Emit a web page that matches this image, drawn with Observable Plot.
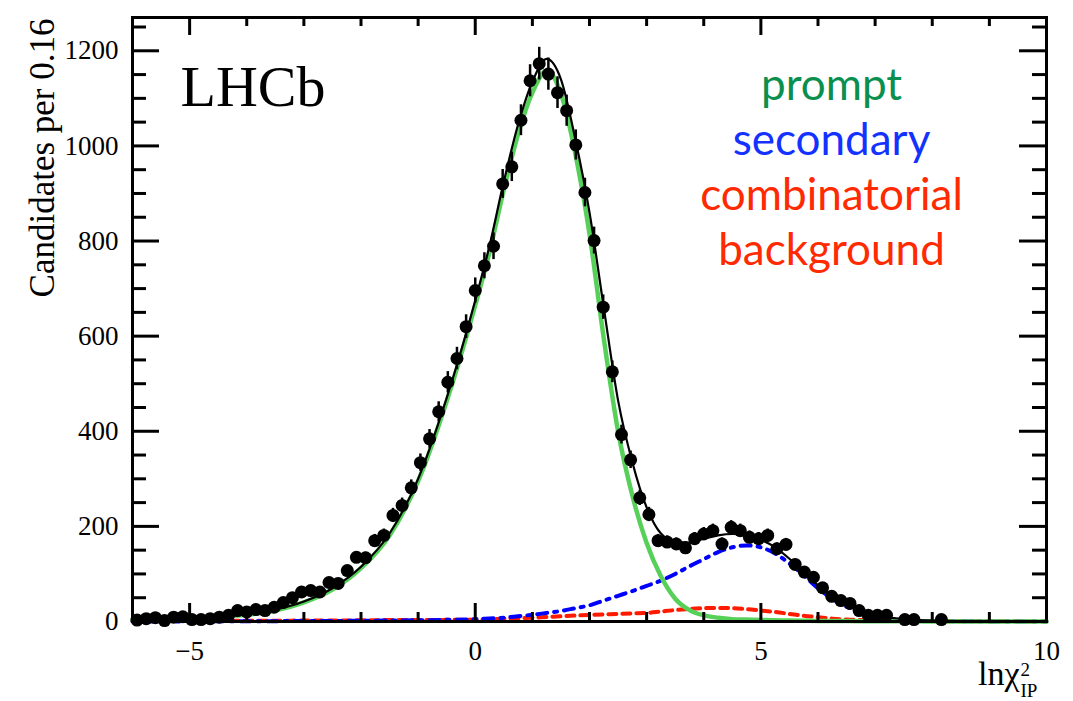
<!DOCTYPE html>
<html>
<head>
<meta charset="utf-8">
<script src="https://cdn.jsdelivr.net/npm/d3@7"></script>
<script src="https://cdn.jsdelivr.net/npm/@observablehq/plot@0.6"></script>
<style>
  html, body { margin: 0; padding: 0; background: #fff; }
  #chart svg { display: block; }
</style>
</head>
<body>
<div id="chart"></div>
<script>
// ---------------- data ----------------
const binCenters = [-5.92,-5.76,-5.60,-5.44,-5.28,-5.12,-4.96,-4.80,-4.64,-4.48,
  -4.32,-4.16,-4.00,-3.84,-3.68,-3.52,-3.36,-3.20,-3.04,-2.88,
  -2.72,-2.56,-2.40,-2.24,-2.08,-1.92,-1.76,-1.60,-1.44,-1.28,
  -1.12,-0.96,-0.80,-0.64,-0.48,-0.32,-0.16,0.00,0.16,0.32,
  0.48,0.64,0.80,0.96,1.12,1.28,1.44,1.60,1.76,1.92,
  2.08,2.24,2.40,2.56,2.72,2.88,3.04,3.20,3.36,3.52,
  3.68,3.84,4.00,4.16,4.32,4.48,4.64,4.80,4.96,5.12,
  5.28,5.44,5.60,5.76,5.92,6.08,6.24,6.40,6.56,6.72,
  6.88,7.04,7.20,7.36,7.52,7.68,7.84,8.00,8.16,8.32,
  8.48,8.64,8.80,8.96,9.12,9.28,9.44,9.60,9.76,9.92];

const candidates = [3,6,8,2,9,10,4,4,6,9,
  13,23,20,25,23,30,40,50,62,65,
  62,82,80,107,135,134,170,181,223,244,
  281,334,384,441,503,553,620,696,748,789,
  920,956,1054,1137,1173,1151,1112,1074,1002,902,
  801,661,525,393,340,260,225,170,167,163,
  155,174,184,191,163,198,191,177,174,181,
  153,162,120,104,93,71,53,44,38,23,
  13,13,13,0,4,4,0,0,4,0,
  0,0,0,0,0,0,0,0,0,0];

// fit curves
const curveX = [-6,-5,-4,-3.5,-3,-2.5,-2,-1.5,-1,-0.5,0,0.25,0.5,0.75,1,1.25,1.5,1.75,2,2.25,2.5,2.75,3,3.25,3.5,3.75,4,4.25,4.5,4.75,5,5.25,5.5,5.75,6,6.25,6.5,6.75,7,7.5,8,9,10];
const totalFit = [5,8,15,25,42,70,115,185,300,470,675,790,925,1045,1135,1183,1140,1015,860,660,465,335,240,185,168,166,174,181,184,182,172,156,132,104,76,55,36,21,13,5,2,0.6,0.3];
const promptFit = [4,7,14,23,40,67,112,181,295,463,665,777,908,1025,1112,1158,1110,985,815,595,400,265,165,95,48,24,13,8,5,4,3,2.5,2,1.5,1.2,1,0.8,0.6,0.5,0.3,0.2,0.1,0];
const secondaryFit = [0,0.3,0.5,0.7,1,1.2,1.5,2,2.5,3.5,5,6.5,8,11,14,18,22,28,34,44,54,64,75,86,100,116,131,146,156,160,156,143,122,97,70,48,31,18,9,3,1,0.2,0];
const combinatorialFit = [1,1,1.5,1.5,2,2,2.5,3,3,3.5,4,5,6,7,8,9.5,11,12.5,14,15,16,17,18,21,24,26.5,28,28.5,28,26,23,20,16,12,9,6,4,3,2,1.2,0.8,0.4,0.2];

const xMajorTicks = [-5,0,5,10];
const xMinorTicks = [-4,-3,-2,-1,1,2,3,4,6,7,8,9];
const yMajorTicks = [0,200,400,600,800,1000,1200];
const yMinorTicks = [50,100,150,250,300,350,450,500,550,650,700,750,850,900,950,1050,1100,1150,1250];

const yTitle = "Candidates per 0.16";
const xTitle = "ln\u03c7";
const xTitleSup = "2";
const xTitleSub = "IP";
const experimentLabel = "LHCb";
const legendLabels = ["prompt","secondary","combinatorial","background"];

// ---------------- styles / layout ----------------
const W = 1073, H = 701;
const ML = 132, MR = 27, MT = 17, MB = 80;
const innerW = W - ML - MR, innerH = H - MT - MB;
const serif = "'Liberation Serif', 'DejaVu Serif', serif";
const sans = "Lato, 'Open Sans', sans-serif";
const cGreenLine = "#57d05a";
const cBlue = "#0000ff";
const cRed = "#ff1a00";
const legendColors = ["#0b8f4e", "#1432ff", "#ff2a00", "#ff2a00"];
const legendBaselines = [99, 154, 209, 264];

const bins = binCenters.map((x, i) => ({x, n: candidates[i]})).filter(d => d.n > 0);
const curves = curveX.map((x, i) => ({
  x, total: totalFit[i], prompt: promptFit[i],
  secondary: secondaryFit[i], comb: combinatorialFit[i]
}));

const legendMarks = legendLabels.map((t, i) => Plot.text([t], {
  frameAnchor: "top-left", dx: 831 - ML, dy: legendBaselines[i] - MT,
  textAnchor: "middle", lineAnchor: "bottom", text: d => d,
  fill: legendColors[i], fontFamily: sans, fontSize: 44
}));

const RX = W - MR, BY = H - MB; // bottom-right frame corner
const chart = Plot.plot({
  width: W, height: H,
  marginLeft: ML, marginRight: MR, marginTop: MT, marginBottom: MB,
  x: {domain: [-6, 10]},
  y: {domain: [0, 1270]},
  style: {fontFamily: serif, background: "white", color: "black"},
  marks: [
    Plot.line(curves, {x: "x", y: "comb", stroke: cRed, strokeWidth: 4, strokeDasharray: "8,6", curve: "monotone-x"}),
    Plot.line(curves, {x: "x", y: "secondary", stroke: cBlue, strokeWidth: 4, strokeDasharray: "10,7,3,7", curve: "monotone-x"}),
    Plot.line(curves, {x: "x", y: "prompt", stroke: cGreenLine, strokeWidth: 4.5, curve: "monotone-x"}),
    Plot.line(curves, {x: "x", y: "total", stroke: "black", strokeWidth: 2.2, curve: "monotone-x"}),
    Plot.ruleX(bins, {x: "x", y1: d => d.n - Math.sqrt(d.n), y2: d => d.n + Math.sqrt(d.n), stroke: "black", strokeWidth: 2.5}),
    Plot.dot(bins, {x: "x", y: "n", r: 6.5, fill: "black"}),
    // inward ticks
    Plot.tickX(xMajorTicks, {x: d => d, insetTop: innerH - 18, stroke: "black", strokeWidth: 3}),
    Plot.tickX(xMinorTicks, {x: d => d, insetTop: innerH - 9, stroke: "black", strokeWidth: 3}),
    Plot.tickX(xMajorTicks, {x: d => d, insetBottom: innerH - 18, stroke: "black", strokeWidth: 3}),
    Plot.tickX(xMinorTicks, {x: d => d, insetBottom: innerH - 9, stroke: "black", strokeWidth: 3}),
    Plot.tickY(yMajorTicks, {y: d => d, insetRight: innerW - 27, stroke: "black", strokeWidth: 3}),
    Plot.tickY(yMinorTicks, {y: d => d, insetRight: innerW - 14, stroke: "black", strokeWidth: 3}),
    Plot.tickY(yMajorTicks, {y: d => d, insetLeft: innerW - 27, stroke: "black", strokeWidth: 3}),
    Plot.tickY(yMinorTicks, {y: d => d, insetLeft: innerW - 14, stroke: "black", strokeWidth: 3}),
    Plot.frame({stroke: "black", strokeWidth: 3}),
    Plot.axisX({ticks: xMajorTicks, tickSize: 0, tickPadding: 19, fontSize: 27, fontFamily: serif,
      tickFormat: d => (d < 0 ? "\u2212" + Math.abs(d) : String(d)), label: null}),
    Plot.axisY({ticks: yMajorTicks, tickSize: 0, tickPadding: 14, fontSize: 27, fontFamily: serif,
      tickFormat: d => String(d), label: null}),
    // y title
    Plot.text([yTitle], {frameAnchor: "top-left", dx: 42 - ML, dy: 1, rotate: -90,
      textAnchor: "end", lineAnchor: "middle", text: d => d, fontSize: 35, fontFamily: serif, fill: "black"}),
    // x title  ln chi^2_IP
    Plot.text([xTitle], {frameAnchor: "bottom-right", dx: 1019 - RX, dy: 684 - BY,
      textAnchor: "end", lineAnchor: "bottom", text: d => d, fontSize: 34, fontFamily: serif, fill: "black"}),
    Plot.text([xTitleSup], {frameAnchor: "bottom-right", dx: 1020 - RX, dy: 675 - BY,
      textAnchor: "start", lineAnchor: "bottom", text: d => d, fontSize: 19, fontFamily: serif, fill: "black"}),
    Plot.text([xTitleSub], {frameAnchor: "bottom-right", dx: 1020 - RX, dy: 696 - BY,
      textAnchor: "start", lineAnchor: "bottom", text: d => d, fontSize: 19, fontFamily: serif, fill: "black"}),
    // LHCb label
    Plot.text([experimentLabel], {frameAnchor: "top-left", dx: 180 - ML, dy: 105 - MT,
      textAnchor: "start", lineAnchor: "bottom", text: d => d, fontSize: 58, fontFamily: serif, fill: "black"}),
    ...legendMarks
  ]
});
document.getElementById("chart").appendChild(chart);
</script>
</body>
</html>
